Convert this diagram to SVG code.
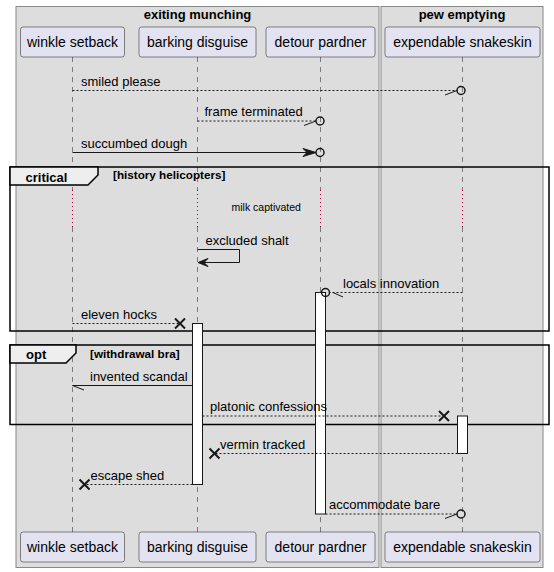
<svg xmlns="http://www.w3.org/2000/svg" width="554" height="572" viewBox="0 0 554 572">
  <style>
    text { font-family: "Liberation Sans", Arial, sans-serif; fill: #000; }
    .box { fill: #DDDDDD; stroke: #888; stroke-width: 1; }
    .boxTitle { font-size: 13px; font-weight: bold; text-anchor: middle; }
    .part rect { fill: #E2E2F0; stroke: #181818; stroke-width: 0.5; }
    .part text { font-size: 14px; text-anchor: middle; }
    .life { stroke: #181818; stroke-width: 0.5; stroke-dasharray: 5,5; fill: none; }
    .delay { stroke: #A80036; stroke-width: 1; stroke-dasharray: 1,3; fill: none; }
    .msg { stroke: #181818; stroke-width: 1; fill: none; }
    .dash { stroke-dasharray: 2,2; }
    .head { fill: #181818; stroke: #181818; stroke-width: 1; }
    .circ { fill: none; stroke: #181818; stroke-width: 1.5; }
    .cross { stroke: #181818; stroke-width: 2; }
    .act { fill: #FFFFFF; stroke: #181818; stroke-width: 1; }
    .lbl { font-size: 13px; }
    .frame { fill: none; stroke: #000; stroke-width: 1.5; }
    .tab { fill: #EEEEEE; stroke: #000; stroke-width: 1.5; }
    .tabText { font-size: 13px; font-weight: bold; }
    .cond { font-size: 11.7px; font-weight: bold; }
    .note { font-size: 10.5px; }
  </style>

  <!-- participant boxes -->
  <g id="box-exiting-munching">
    <rect class="box" x="16" y="6.5" width="363" height="561"/>
    <text class="boxTitle" x="197.5" y="19">exiting munching</text>
  </g>
  <g id="box-pew-emptying">
    <rect class="box" x="381" y="6.5" width="162" height="561"/>
    <text class="boxTitle" x="462" y="19">pew emptying</text>
  </g>

  <!-- lifelines -->
  <g id="lifelines">
    <path class="life" d="M72.5,57 V190 M72.5,227 V532 M197.5,57 V190 M197.5,227 V532 M320.5,57 V190 M320.5,227 V532 M462.5,57 V190 M462.5,227 V532"/>
    <path class="delay" d="M72.5,190 V227 M197.5,190 V227 M320.5,190 V227 M462.5,190 V227"/>
  </g>

  <!-- combined fragments -->
  <g id="frame-critical">
    <rect class="frame" x="10" y="167" width="539" height="164"/>
    <polygon class="tab" points="10,167 98,167 98,175 88,185 10,185"/>
    <text class="tabText" x="25.5" y="182">critical</text>
    <text class="cond" x="113" y="179">[history helicopters]</text>
  </g>
  <g id="frame-opt">
    <rect class="frame" x="10" y="345" width="539" height="79.5"/>
    <polygon class="tab" points="10,345 76,345 76,353 66,363 10,363"/>
    <text class="tabText" x="26" y="359">opt</text>
    <text class="cond" x="90" y="358">[withdrawal bra]</text>
  </g>

  <text class="note" x="231.5" y="211">milk captivated</text>

  <!-- activations -->
  <g id="activations">
    <rect class="act" x="315.5" y="292.5" width="10" height="221.5"/>
    <rect class="act" x="192.5" y="323.5" width="10" height="161"/>
    <rect class="act" x="457.5" y="416" width="10" height="37.5"/>
  </g>

  <!-- connectors -->
  <g id="connectors">
    <!-- smiled please -->
    <path class="msg dash" d="M72.5,90.5 H457"/>
    <path class="msg" d="M445,95 L457,90.5"/>
    <circle class="circ" cx="461" cy="90.5" r="4"/>
    <text class="lbl" x="81" y="86">smiled please</text>

    <!-- frame terminated -->
    <path class="msg dash" d="M197.5,121 H316"/>
    <path class="msg" d="M304,125.5 L316,121"/>
    <circle class="circ" cx="320" cy="121" r="4"/>
    <text class="lbl" x="204.5" y="116">frame terminated</text>

    <!-- succumbed dough -->
    <path class="msg" d="M72.5,152.5 H310"/>
    <polygon class="head" points="303,148.5 316,152.5 303,156.5 307,152.5"/>
    <circle class="circ" cx="320" cy="152.5" r="4"/>
    <text class="lbl" x="81" y="147.5">succumbed dough</text>

    <!-- excluded shalt -->
    <path class="msg" d="M197.5,249.5 H239.5 V262.5 H203"/>
    <polygon class="head" points="208,258.5 198,262.5 208,266.5 204,262.5"/>
    <text class="lbl" x="205.5" y="244.5">excluded shalt</text>

    <!-- locals innovation -->
    <path class="msg dash" d="M462.5,292.5 H329.5"/>
    <path class="msg" d="M333,292.5 L343,297"/>
    <circle class="circ" cx="325.5" cy="292.5" r="4"/>
    <text class="lbl" x="343" y="287.5">locals innovation</text>

    <!-- eleven hocks -->
    <path class="msg dash" d="M72.5,323.5 H180"/>
    <path class="cross" d="M175,318.5 L185,328.5 M175,328.5 L185,318.5"/>
    <text class="lbl" x="81" y="318.5">eleven hocks</text>

    <!-- invented scandal -->
    <path class="msg" d="M192.5,385.5 H72.5 L84,390"/>
    <text class="lbl" x="90" y="380.5">invented scandal</text>

    <!-- platonic confessions -->
    <path class="msg dash" d="M202.5,416 H444"/>
    <path class="cross" d="M439,411 L449,421 M439,421 L449,411"/>
    <text class="lbl" x="210" y="411">platonic confessions</text>

    <!-- vermin tracked -->
    <path class="msg dash" d="M457.5,453.5 H214.5"/>
    <path class="cross" d="M209.5,448.5 L219.5,458.5 M209.5,458.5 L219.5,448.5"/>
    <text class="lbl" x="220" y="448.5">vermin tracked</text>

    <!-- escape shed -->
    <path class="msg dash" d="M192.5,484.5 H84.5"/>
    <path class="cross" d="M79.5,479.5 L89.5,489.5 M79.5,489.5 L89.5,479.5"/>
    <text class="lbl" x="90.5" y="479.5">escape shed</text>

    <!-- accommodate bare -->
    <path class="msg dash" d="M325.5,514 H457"/>
    <path class="msg" d="M445,518.5 L457,514"/>
    <circle class="circ" cx="461" cy="514" r="4"/>
    <text class="lbl" x="329" y="509">accommodate bare</text>
  </g>

  <!-- participants -->
  <g id="winkle-setback" class="part">
    <rect x="20.5" y="27" width="104" height="30" rx="2.5"/>
    <text x="72.5" y="47">winkle setback</text>
    <rect x="20.5" y="532" width="104" height="30" rx="2.5"/>
    <text x="72.5" y="552">winkle setback</text>
  </g>
  <g id="barking-disguise" class="part">
    <rect x="139" y="27" width="117" height="30" rx="2.5"/>
    <text x="197.5" y="47">barking disguise</text>
    <rect x="139" y="532" width="117" height="30" rx="2.5"/>
    <text x="197.5" y="552">barking disguise</text>
  </g>
  <g id="detour-pardner" class="part">
    <rect x="266" y="27" width="109" height="30" rx="2.5"/>
    <text x="320.5" y="47">detour pardner</text>
    <rect x="266" y="532" width="109" height="30" rx="2.5"/>
    <text x="320.5" y="552">detour pardner</text>
  </g>
  <g id="expendable-snakeskin" class="part">
    <rect x="385" y="27" width="155" height="30" rx="2.5"/>
    <text x="462.5" y="47">expendable snakeskin</text>
    <rect x="385" y="532" width="155" height="30" rx="2.5"/>
    <text x="462.5" y="552">expendable snakeskin</text>
  </g>
</svg>
